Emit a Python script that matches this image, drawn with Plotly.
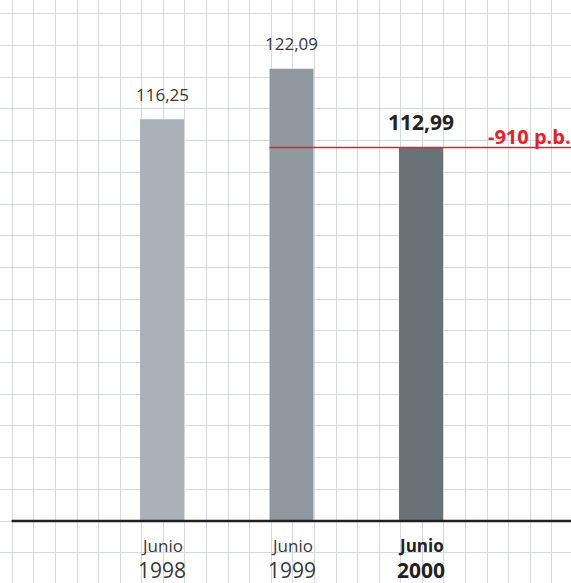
import plotly.graph_objects as go

# ---- data ----
months = ["Junio", "Junio", "Junio"]
years = ["1998", "1999", "2000"]
values = [116.25, 122.09, 112.99]
value_labels = ["116,25", "122,09", "112,99"]
highlight = [False, False, True]
change_label = "-910 p.b."

bar_colors = ["#aab1b7", "#8e989e", "#687277"]

# ---- layout geometry (pixels of the 571x583 canvas) ----
W, H = 571, 583
BASELINE = 69.81          # value at the baseline
PX_PER_UNIT = 8.65
BASE_PX = 521
CENTER0_PX, STEP_PX = 162, 129.5
GRID_X0_PX, GRID_DX_PX = 12.3, 21.58
GRID_DY_PX = 31.7
BAR_W = 44 / STEP_PX

x_min = -CENTER0_PX / STEP_PX
x_max = (W - CENTER0_PX) / STEP_PX
y_min = BASELINE - (H - BASE_PX) / PX_PER_UNIT
y_max = BASELINE + BASE_PX / PX_PER_UNIT

idx = list(range(len(values)))

fig = go.Figure()
fig.add_trace(go.Bar(
    x=idx,
    y=[v - BASELINE for v in values],
    base=[BASELINE] * len(values),
    width=BAR_W,
    marker=dict(color=bar_colors, line=dict(width=0)),
    hoverinfo="skip",
))

# red reference line at the last value, starting at bar 2
fig.add_trace(go.Scatter(
    x=[idx[1] - BAR_W / 2, x_max + 0.05], y=[values[-1], values[-1]],
    mode="lines", line=dict(color="#ee1c25", width=1.4),
    hoverinfo="skip", cliponaxis=False,
))

grid_color = "#d5d9dd"
fig.update_layout(
    width=W, height=H,
    margin=dict(l=0, r=0, t=0, b=0),
    paper_bgcolor="white", plot_bgcolor="white",
    showlegend=False,
    xaxis=dict(range=[x_min, x_max], showgrid=True, gridcolor=grid_color, gridwidth=1,
               tick0=(GRID_X0_PX - CENTER0_PX) / STEP_PX, dtick=GRID_DX_PX / STEP_PX,
               showticklabels=False, zeroline=False, showline=False, ticks="",
               fixedrange=True),
    yaxis=dict(range=[y_min, y_max], showgrid=True, gridcolor=grid_color, gridwidth=1,
               tick0=BASELINE, dtick=GRID_DY_PX / PX_PER_UNIT,
               showticklabels=False, zeroline=False, showline=False, ticks="",
               fixedrange=True),
)

# baseline
fig.add_shape(type="line", xref="x", yref="y",
              x0=(GRID_X0_PX - CENTER0_PX) / STEP_PX - 0.005, x1=x_max,
              y0=BASELINE, y1=BASELINE,
              line=dict(color="#231f20", width=2.5), layer="above")

font_family = "Open Sans"
for i, v, lab, hl, m, yr in zip(idx, values, value_labels, highlight, months, years):
    fig.add_annotation(x=i, y=v, xref="x", yref="y", text=f"<b>{lab}</b>" if hl else lab,
                       showarrow=False, yanchor="middle", yshift=25,
                       font=dict(family=font_family, size=21 if hl else 17,
                                 color="#222222" if hl else "#383838"))
    fig.add_annotation(x=i, y=1 - 545 / H, xref="x", yref="paper",
                       text=f"<b>{m}</b>" if hl else m, showarrow=False, yanchor="middle",
                       font=dict(family=font_family, size=17,
                                 color="#222222" if hl else "#383838"))
    fig.add_annotation(x=i, y=1 - 570 / H, xref="x", yref="paper",
                       text=f"<b>{yr}</b>" if hl else yr, showarrow=False, yanchor="middle",
                       font=dict(family=font_family, size=21,
                                 color="#222222" if hl else "#383838"))

fig.add_annotation(x=1, y=values[-1], xref="paper", yref="y", text=f"<b>{change_label}</b>",
                   showarrow=False, xanchor="right", yanchor="middle", yshift=11, xshift=2,
                   font=dict(family=font_family, size=20, color="#ee1c25"))

fig.write_html("out.html")
